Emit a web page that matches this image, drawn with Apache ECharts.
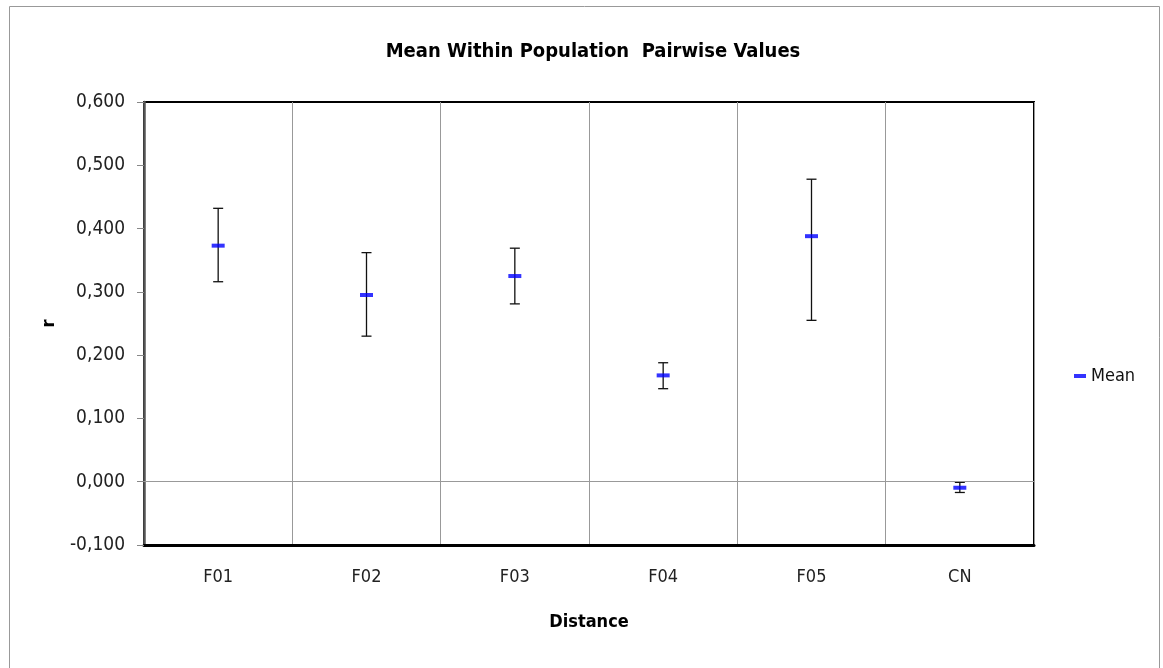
<!DOCTYPE html>
<html>
<head>
<meta charset="utf-8">
<script src="https://cdn.jsdelivr.net/npm/echarts@6/dist/echarts.min.js"></script>
<style>
  html, body { margin: 0; padding: 0; background: #fff; }
  #chart { width: 1163px; height: 668px; }
</style>
</head>
<body>
<div id="chart"></div>
<script>
const categories = ['F01', 'F02', 'F03', 'F04', 'F05', 'CN']
const means = [0.373, 0.295, 0.325, 0.168, 0.388, -0.0095]
const upper = [0.432, 0.362, 0.369, 0.188, 0.478, -0.001]
const lower = [0.316, 0.230, 0.281, 0.147, 0.255, -0.017]

const font = '"DejaVu Sans Condensed", "Liberation Sans Narrow", "Open Sans", sans-serif'

const chart = echarts.init(document.getElementById('chart'))

const errorData = categories.map((c, i) => [i, lower[i], upper[i]])

chart.setOption({
  animation: false,
  title: {
    text: 'Mean Within Population  Pairwise Values',
    left: 588, top: 37, textAlign: 'center',
    textStyle: { fontFamily: font, fontSize: 20, fontWeight: 'bold', color: '#000' }
  },
  legend: {
    data: [{ name: 'Mean', icon: 'rect' }],
    left: 1069, top: 362,
    itemWidth: 12, itemHeight: 4, itemGap: 5,
    textStyle: { fontFamily: font, fontSize: 18, color: '#111' }
  },
  grid: {
    left: 144, right: 129, top: 102, bottom: 123,
    show: true, borderColor: '#000', borderWidth: 2
  },
  xAxis: {
    type: 'category',
    data: categories,
    name: 'Distance', nameLocation: 'middle', nameGap: 68,
    nameTextStyle: { fontFamily: font, fontSize: 18, fontWeight: 'bold', color: '#000' },
    axisLine: { onZero: false, lineStyle: { color: '#000', width: 3 } },
    axisTick: { show: false },
    axisLabel: { fontFamily: font, fontSize: 18, color: '#222', margin: 23 },
    splitLine: { show: true, lineStyle: { color: '#999', width: 1 } }
  },
  yAxis: {
    type: 'value',
    min: -0.1, max: 0.6, interval: 0.1,
    name: 'r', nameLocation: 'middle', nameGap: 86, nameRotate: 90,
    nameTextStyle: { fontFamily: font, fontSize: 18, fontWeight: 'bold', color: '#000' },
    axisLine: { show: true, onZero: false, lineStyle: { color: '#555', width: 2.5 } },
    axisTick: { show: true, length: 7, lineStyle: { color: '#888' } },
    axisLabel: {
      fontFamily: font, fontSize: 19, color: '#222', margin: 19,
      formatter: v => v.toFixed(3).replace('.', ',')
    },
    splitLine: { show: false }
  },
  series: [
    {
      type: 'custom',
      name: 'err',
      data: errorData,
      z: 3,
      renderItem: (params, api) => {
        const x = api.value(0)
        const lo = api.coord([x, api.value(1)])
        const hi = api.coord([x, api.value(2)])
        const cap = 5
        const style = { stroke: '#111', lineWidth: 1.3 }
        return {
          type: 'group',
          children: [
            { type: 'line', shape: { x1: lo[0], y1: lo[1], x2: hi[0], y2: hi[1] }, style },
            { type: 'line', shape: { x1: lo[0] - cap, y1: lo[1], x2: lo[0] + cap, y2: lo[1] }, style },
            { type: 'line', shape: { x1: hi[0] - cap, y1: hi[1], x2: hi[0] + cap, y2: hi[1] }, style }
          ]
        }
      }
    },
    {
      type: 'scatter',
      name: 'Mean',
      data: means,
      symbol: 'rect',
      symbolSize: [13, 4],
      itemStyle: { color: '#0000ff' },
      z: 4,
      markLine: {
        silent: true,
        symbol: 'none',
        label: { show: false },
        lineStyle: { color: '#999', width: 1.2, type: 'solid' },
        data: [{ yAxis: 0 }]
      }
    }
  ],
  graphic: [
    {
      type: 'rect',
      shape: { x: 9.5, y: 6.5, width: 1150, height: 680 },
      style: { fill: 'none', stroke: '#999', lineWidth: 1 },
      silent: true
    }
  ]
})
</script>
</body>
</html>
